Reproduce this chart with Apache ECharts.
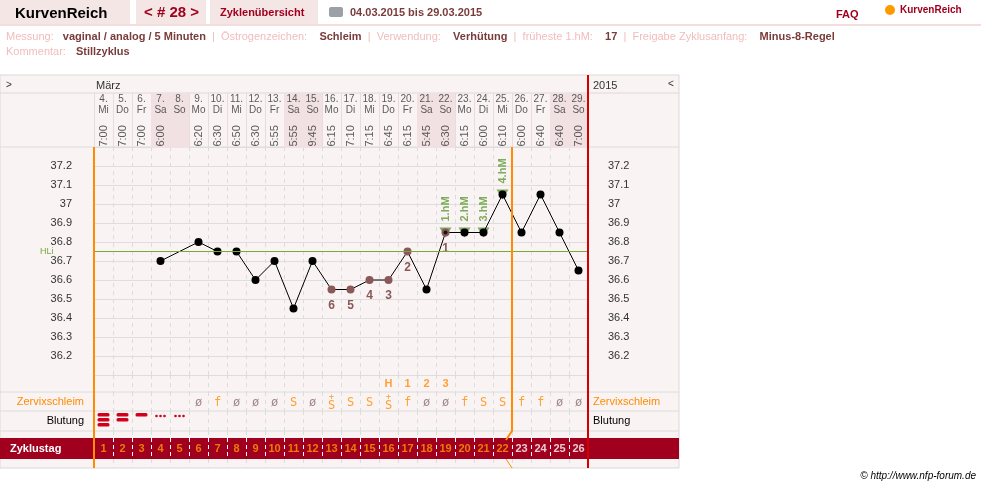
<!DOCTYPE html>
<html><head><meta charset="utf-8">
<script src="https://cdn.jsdelivr.net/npm/echarts@6/dist/echarts.min.js"></script>
<style>html,body{margin:0;padding:0;background:#fff}#c{width:981px;height:488px}</style>
</head><body><div id="c"></div>
<script>
// chart data
var dates = ['4.','5.','6.','7.','8.','9.','10.','11.','12.','13.','14.','15.','16.','17.','18.','19.','20.','21.','22.','23.','24.','25.','26.','27.','28.','29.'];
var weekdays = ['Mi','Do','Fr','Sa','So','Mo','Di','Mi','Do','Fr','Sa','So','Mo','Di','Mi','Do','Fr','Sa','So','Mo','Di','Mi','Do','Fr','Sa','So'];
var times = ['7:00','7:00','7:00','6:00','','6:20','6:30','6:50','6:30','5:55','5:55','9:45','6:15','7:10','7:15','6:45','6:15','5:45','6:30','6:15','6:00','6:10','6:00','6:40','6:40','7:00'];
var cycleDays = [1,2,3,4,5,6,7,8,9,10,11,12,13,14,15,16,17,18,19,20,21,22,23,24,25,26];
var temps = [null,null,null,36.7,null,36.8,36.75,36.75,36.6,36.7,36.45,36.7,36.55,36.55,36.6,36.6,36.75,36.55,36.85,36.85,36.85,37.05,36.85,37.05,36.85,36.65];
var lowCount = ['','','','','','','','','','','','','6','5','4','3','2','','1','','','','','','',''];
var hmLabels = ['','','','','','','','','','','','','','','','','','','1.hM','2.hM','3.hM','4.hM','','','',''];
var mucus = ['','','','','','ø','f','ø','ø','ø','S','ø','S','S','S','S','f','ø','ø','f','S','S','f','f','ø','ø'];
var mucusPlus = [12,15]; // index of days with "+"
var peak = ['','','','','','','','','','','','','','','','H','1','2','3','','','','','','',''];
var bleeding = [3,2,1,0.5,0.5,0,0,0,0,0,0,0,0,0,0,0,0,0,0,0,0,0,0,0,0,0];
var yTicks = [36.2,36.3,36.4,36.5,36.6,36.7,36.8,36.9,37,37.1,37.2];
var hli = 36.75;

var weekend = {3:1,4:1,10:1,11:1,17:1,18:1,24:1,25:1};
var F = 'Liberation Sans, Arial, sans-serif';
var chart = echarts.init(document.getElementById('c'));

var rows = [
  {top: 93, height: 55},   // 0 header
  {top: 147, height: 228}, // 1 main
  {top: 375, height: 17},  // 2 peak
  {top: 392, height: 19},  // 3 mucus
  {top: 411, height: 20},  // 4 bleeding
  {top: 431, height: 7},   // 5 spacer
  {top: 438, height: 21},  // 6 cycle day
  {top: 459, height: 9}    // 7 bottom
];
var grids = rows.map(function (r) {
  return {left: 94, right: 393, top: r.top, height: r.height, show: true, borderWidth: 0, backgroundColor: 'transparent'};
});
var dash = {show: true, lineStyle: {color: '#dcdcdc', type: [4, 4]}};
var xAxes = rows.map(function (r, i) {
  return {type: 'category', gridIndex: i, data: cycleDays, boundaryGap: true,
    axisLine: {show: false}, axisTick: {show: false}, axisLabel: {show: false},
    splitLine: i === 0 ? {show: true, lineStyle: {color: '#e8dcdc'}} : (i === 6 ? {show: true, lineStyle: {color: '#ffffff', type: [4, 3]}} : dash)};
});
var yAxes = rows.map(function (r, i) {
  return {type: 'value', gridIndex: i, min: 0, max: 1, show: false};
});
yAxes[1] = {type: 'value', gridIndex: 1, min: 36.1, max: 37.3, interval: 0.1,
  axisLine: {show: false}, axisTick: {show: false},
  axisLabel: {margin: 22, color: '#333', fontFamily: F, fontSize: 11, formatter: function (v) {
    var r = Math.round(v * 10) / 10; return yTicks.indexOf(r) >= 0 ? String(r) : ''; }},
  splitLine: {lineStyle: {color: '#dedede'}}};
yAxes.push({type: 'value', gridIndex: 1, min: 36.1, max: 37.3, interval: 0.1, position: 'right',
  axisLine: {show: false}, axisTick: {show: false}, splitLine: {show: false},
  axisLabel: {margin: 20, color: '#333', fontFamily: F, fontSize: 11, formatter: function (v) {
    var r = Math.round(v * 10) / 10; return yTicks.indexOf(r) >= 0 ? String(r) : ''; }}});

function textRow(gi, arr, y, style) {
  return {type: 'scatter', xAxisIndex: gi, yAxisIndex: gi, symbolSize: 0, silent: true,
    data: arr.map(function (t, i) { return {value: [i, y], name: t}; }),
    label: Object.assign({show: true, position: 'inside', fontFamily: F, formatter: function (p) { return p.name; }}, style)};
}

var tempData = temps.map(function (v, i) {
  var brown = lowCount[i] !== '';
  return {value: v, itemStyle: {color: brown ? '#8a5858' : '#000'},
    label: {show: brown, position: 'bottom', distance: 6, formatter: lowCount[i], color: '#8a5858', fontWeight: 'bold', fontSize: 12, fontFamily: F}};
});
var hmData = [];
temps.forEach(function (v, i) { if (hmLabels[i]) hmData.push({value: [i, v], name: hmLabels[i]}); });

var series = [
  // weekend shading in header
  {type: 'custom', xAxisIndex: 0, yAxisIndex: 0, silent: true, z: 1,
    data: cycleDays.map(function (d, i) { return [i, weekend[i] ? 1 : 0]; }),
    renderItem: function (params, api) {
      if (!api.value(1)) return null;
      var p = api.coord([api.value(0), 1]); var s = api.size([1, 1]);
      return {type: 'rect', shape: {x: p[0] - s[0] / 2, y: p[1], width: s[0], height: s[1]}, style: {fill: '#f2e1e3'}};
    }},
  textRow(0, dates.map(function (d, i) { return d + '\n' + weekdays[i]; }), 0.78, {color: '#333', fontSize: 10, lineHeight: 11}),
  textRow(0, times, 0.22, {color: '#333', fontSize: 11, rotate: 90}),
  // HLi line
  {type: 'line', xAxisIndex: 1, yAxisIndex: 1, data: [], markLine: {silent: true, symbol: 'none',
    lineStyle: {color: '#79a83a', type: 'solid', width: 1}, label: {show: false}, data: [{yAxis: hli}]}},
  {type: 'line', xAxisIndex: 1, yAxisIndex: 1, data: tempData, connectNulls: true, symbol: 'circle', symbolSize: 8,
    lineStyle: {color: '#000', width: 1}, z: 3},
  {type: 'scatter', xAxisIndex: 1, yAxisIndex: 1, data: hmData, symbol: 'triangle', symbolRotate: 180, symbolSize: [12, 10],
    itemStyle: {color: '#5d9a32'}, z: 2,
    label: {show: true, position: 'top', distance: 6, rotate: 90, align: 'left', verticalAlign: 'middle', color: '#5d9a32', fontWeight: 'bold', fontSize: 11, fontFamily: F,
      formatter: function (p) { return p.name; }}},
  {type: 'scatter', xAxisIndex: 1, yAxisIndex: 1, data: hmData.map(function (d) { return d.value; }), symbolSize: 4, itemStyle: {color: '#000'}, z: 4},
  textRow(2, peak, 0.5, {color: '#ff8c00', fontSize: 11, fontWeight: 'bold'}),
  {type: 'scatter', xAxisIndex: 3, yAxisIndex: 3, symbolSize: 0, silent: true,
    data: mucus.map(function (t, i) { return {value: [i, 0.45], name: t}; }),
    label: {show: true, fontFamily: 'DejaVu Sans Mono, monospace', fontSize: 12, formatter: function (p) {
      return mucusPlus.indexOf(p.dataIndex) >= 0 ? '{s|+}\n' + p.name : p.name; },
      rich: {s: {fontSize: 9, lineHeight: 7, color: '#ff8c00'}},
      color: '#ff8c00'}},
  {type: 'custom', xAxisIndex: 4, yAxisIndex: 4, silent: true,
    data: bleeding.map(function (b, i) { return [i, b]; }),
    renderItem: function (params, api) {
      var b = api.value(1); if (!b) return null;
      var p = api.coord([api.value(0), 0.5]); var ch = [];
      if (b < 1) {
        for (var k = -1; k <= 1; k++) ch.push({type: 'circle', shape: {cx: p[0] + k * 4, cy: p[1] - 5, r: 1.3}, style: {fill: '#d0021b'}});
      } else {
        for (var j = 0; j < b; j++) ch.push({type: 'rect', shape: {x: p[0] - 6, y: p[1] - 8 + j * 5, width: 12, height: 3.5, r: 1.5}, style: {fill: '#d0021b'}});
      }
      return {type: 'group', children: ch};
    }},
  {type: 'scatter', xAxisIndex: 6, yAxisIndex: 6, symbolSize: 0, silent: true, z: 5,
    data: cycleDays.map(function (d, i) { return {value: [i, 0.5], name: String(d)}; }),
    label: {show: true, fontFamily: F, fontSize: 11, fontWeight: 'bold', formatter: function (p) { return p.name; },
      color: function () {}}}
];
// colour per mucus letter and per cycle day
series[8].data.forEach(function (d) { d.label = {color: d.name === 'ø' ? '#8a6a6a' : '#ff8c00'}; });
series[10].data.forEach(function (d, i) { d.label = {color: i < 22 ? '#ff9a00' : '#ffffff'}; });
delete series[10].label.color;

var red = '#a0001e';
var graphic = [
  // top bar
  {type: 'rect', shape: {x: 0, y: 0, width: 130, height: 24}, style: {fill: '#f5e6e6'}},
  {type: 'rect', shape: {x: 136, y: 0, width: 70, height: 24}, style: {fill: '#f5e6e6'}},
  {type: 'rect', shape: {x: 210, y: 0, width: 108, height: 24}, style: {fill: '#f5e6e6'}},
  {type: 'rect', shape: {x: 0, y: 24, width: 981, height: 2}, style: {fill: '#f3dede'}},
  {type: 'text', x: 15, y: 6, style: {text: 'KurvenReich', fill: '#000', font: 'bold 15px ' + F}},
  {type: 'text', x: 144, y: 5, style: {text: '< # 28 >', fill: red, font: 'bold 15px ' + F}},
  {type: 'text', x: 220, y: 7, style: {text: 'Zyklenübersicht', fill: red, font: 'bold 11px ' + F}},
  {type: 'rect', shape: {x: 329, y: 7, width: 14, height: 10, r: 2}, style: {fill: '#9aa0a6'}},
  {type: 'text', x: 350, y: 7, style: {text: '04.03.2015 bis 29.03.2015', fill: '#7a3b3b', font: 'bold 11px ' + F}},
  {type: 'text', x: 836, y: 9, style: {text: 'FAQ', fill: red, font: 'bold 11px ' + F}},
  {type: 'circle', shape: {cx: 890, cy: 10, r: 5}, style: {fill: '#ff9900'}},
  {type: 'text', x: 900, y: 5, style: {text: 'KurvenReich', fill: red, font: 'bold 10px ' + F}},
  // info lines
  {type: 'text', x: 6, y: 31, style: {text: '{l|Messung:}   {v|vaginal / analog / 5 Minuten}  {l||  Östrogenzeichen:}    {v|Schleim}  {l||  Verwendung:}    {v|Verhütung}  {l||  früheste 1.hM:}    {v|17}  {l||  Freigabe Zyklusanfang:}    {v|Minus-8-Regel}',
    font: '11px ' + F, rich: {l: {fill: '#f2bcbc', font: '11px ' + F}, v: {fill: '#7a3b3b', font: 'bold 11px ' + F}}}},
  {type: 'text', x: 6, y: 46, style: {text: '{l|Kommentar:}   {v|Stillzyklus}',
    rich: {l: {fill: '#f2bcbc', font: '11px ' + F}, v: {fill: '#7a3b3b', font: 'bold 11px ' + F}}}},
  // table frame and backgrounds
  {type: 'rect', z: -10, shape: {x: 0, y: 75, width: 679, height: 393}, style: {fill: '#f9f3f3', stroke: '#d9d9d9'}},
  {type: 'line', shape: {x1: 0, y1: 93, x2: 679, y2: 93}, style: {stroke: '#e2d6d6'}},
  {type: 'line', shape: {x1: 0, y1: 147, x2: 679, y2: 147}, style: {stroke: '#dcdcdc'}},
  {type: 'line', shape: {x1: 0, y1: 392, x2: 679, y2: 392}, style: {stroke: '#dcdcdc'}},
  {type: 'line', shape: {x1: 0, y1: 411, x2: 679, y2: 411}, style: {stroke: '#dcdcdc'}},
  {type: 'line', shape: {x1: 0, y1: 431, x2: 679, y2: 431}, style: {stroke: '#dcdcdc'}},
  {type: 'rect', z: -5, shape: {x: 0, y: 438, width: 679, height: 21}, style: {fill: red}},
  {type: 'text', x: 6, y: 80, style: {text: '>', fill: '#333', font: '10px ' + F}},
  {type: 'text', x: 96, y: 80, style: {text: 'März', fill: '#333', font: '11px ' + F}},
  {type: 'text', x: 593, y: 80, style: {text: '2015', fill: '#333', font: '11px ' + F}},
  {type: 'text', x: 668, y: 79, style: {text: '<', fill: '#333', font: '10px ' + F}},
  {type: 'text', x: 40, y: 247, style: {text: 'HLi', fill: '#79a83a', font: '9px ' + F}},
  {type: 'text', x: 84, y: 402, style: {text: 'Zervixschleim', fill: '#ff8c00', font: '11px ' + F, align: 'right', verticalAlign: 'middle'}},
  {type: 'text', x: 593, y: 402, style: {text: 'Zervixschleim', fill: '#ff8c00', font: '11px ' + F, verticalAlign: 'middle'}},
  {type: 'text', x: 84, y: 421, style: {text: 'Blutung', fill: '#000', font: '11px ' + F, align: 'right', verticalAlign: 'middle'}},
  {type: 'text', x: 593, y: 421, style: {text: 'Blutung', fill: '#000', font: '11px ' + F, verticalAlign: 'middle'}},
  {type: 'text', x: 10, y: 449, style: {text: 'Zyklustag', fill: '#fff', font: 'bold 11px ' + F, verticalAlign: 'middle'}},
  {type: 'text', x: 976, y: 471, style: {text: '© http://www.nfp-forum.de', fill: '#000', font: 'italic 10px ' + F, align: 'right'}},
  // cycle start / end lines
  {type: 'line', z: 10, shape: {x1: 94, y1: 147, x2: 94, y2: 468}, style: {stroke: '#ff8c00', lineWidth: 2}},
  {type: 'line', z: 10, shape: {x1: 588, y1: 75, x2: 588, y2: 468}, style: {stroke: '#d40000', lineWidth: 2}}
];

chart.setOption({animation: false, grid: grids, xAxis: xAxes, yAxis: yAxes, series: series, graphic: graphic});

// line between cycle day 22 and 23 placed via the axis scale
var xa = chart.convertToPixel({xAxisIndex: 1}, 21), xb = chart.convertToPixel({xAxisIndex: 1}, 22);
var xm = (xa + xb) / 2;
graphic.push({type: 'polyline', z: 10, shape: {points: [[xm, 147], [xm, 431], [xm - 6, 440]]}, style: {stroke: '#ff8c00', lineWidth: 2, fill: null}});
graphic.push({type: 'line', z: 10, shape: {x1: xm - 6, y1: 459, x2: xm, y2: 468}, style: {stroke: '#ff8c00', lineWidth: 1}});
chart.setOption({graphic: graphic});
</script></body></html>
